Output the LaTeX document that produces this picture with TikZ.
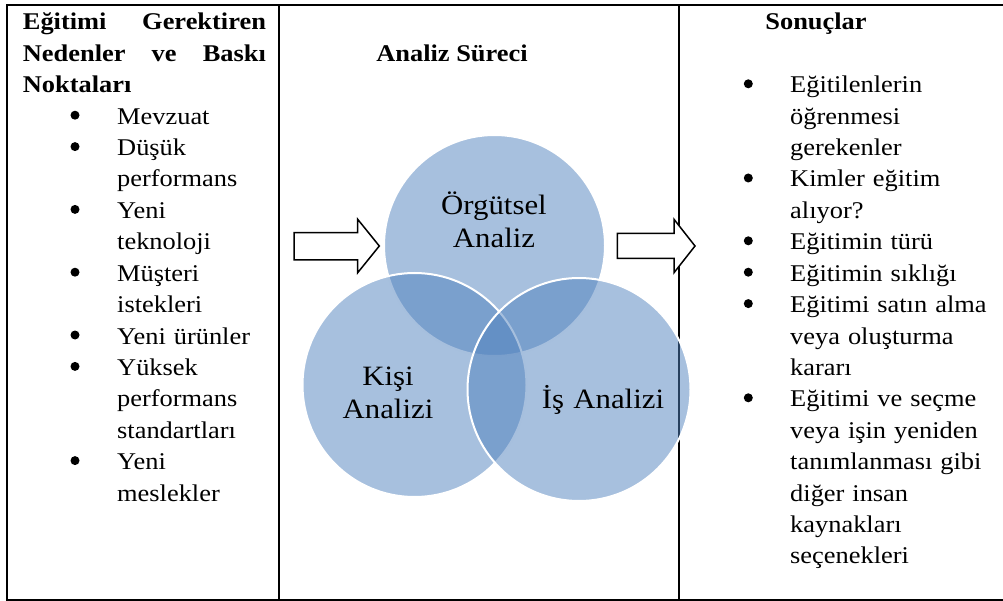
\documentclass[tikz,border=0pt]{standalone}
\usepackage{fontspec}
\setmainfont{Liberation Serif}[FakeStretch=1.1]
\definecolor{vennblue}{HTML}{4F81BD}

\begin{document}
\begin{tikzpicture}[x=1pt,y=-1pt,
    txt/.style={anchor=base west,inner sep=0pt,text width=200pt,align=left,font=\fontsize{24}{31.4}\selectfont},
    head/.style={txt,font=\fontsize{24}{31.4}\selectfont\bfseries},
    lbl/.style={anchor=base,inner sep=0pt,text width=160pt,align=center,font=\fontsize{28}{33}\selectfont},
    bul/.style={circle,fill,inner sep=0pt,minimum size=9pt},
    venn/.style={fill=vennblue,fill opacity=0.5,draw=white,line width=2pt}]
  \useasboundingbox (0,0) rectangle (1003,601);
  % frame
  \draw[line width=2pt] (1003,5) -- (7,5) -- (7,600) -- (1003,600);
  \draw[line width=1.8pt] (279,5) -- (279,600);
  \draw[line width=1.8pt] (679,5) -- (679,600);
  % venn
  \draw[venn] (494.5,245.5) circle [radius=110.5pt];
  \draw[venn] (414.5,385) circle [radius=112pt];
  \draw[venn] (579,389.5) circle [radius=111.5pt];
  \node[lbl] (org) at (494,215) {Örgütsel\\Analiz};
  \node[lbl] (kisi) at (388,385) {Kişi\\Analizi};
  \node[lbl] (is) at (603,408) {İş Analizi};
  % block arrows
  \draw[line width=1.5pt,fill=white] (294,232.7) -- (357.7,232.7) -- (357.7,219.3) -- (379.3,246)
    -- (357.7,272.7) -- (357.7,260) -- (294,260) -- cycle; % in
  \draw[line width=1.5pt,fill=white] (617.3,233.3) -- (674,233.3) -- (674,219.3) -- (695,246)
    -- (674,272.7) -- (674,258.3) -- (617.3,258.3) -- cycle; % out
  % left column
  \node[head,text width=243pt] (lhead) at (22.7,30) {Eğitimi \hfill Gerektiren\\Nedenler \hfill ve \hfill Baskı\\Noktaları};
  \foreach \i/\l/\t in {1/4/{Mevzuat}, 2/5/{Düşük\\performans}, 3/7/{Yeni\\teknoloji},
      4/9/{Müşteri\\istekleri}, 5/11/{Yeni ürünler}, 6/12/{Yüksek\\performans\\standartları},
      7/15/{Yeni\\meslekler}}{
    \node[bul] (lb\i) at (75,{30+(\l-1)*31.4-9}) {};
    \node[txt] (lt\i) at (117,{30+(\l-1)*31.4}) {\t};
  }
  % middle
  \node[head,text width=,anchor=base] (mhead) at (452,61.7) {Analiz Süreci};
  % right column
  \node[head,text width=,anchor=base] (rhead) at (816,30) {Sonuçlar};
  \foreach \i/\l/\t in {1/3/{Eğitilenlerin\\öğrenmesi\\gerekenler}, 2/6/{Kimler eğitim\\alıyor?},
      3/8/{Eğitimin türü}, 4/9/{Eğitimin sıklığı}, 5/10/{Eğitimi satın alma\\veya oluşturma\\kararı},
      6/13/{Eğitimi ve seçme\\veya işin yeniden\\tanımlanması gibi\\diğer insan\\kaynakları\\seçenekleri}}{
    \node[bul] (rb\i) at (748.3,{30+(\l-1)*31.4-9}) {};
    \node[txt] (rt\i) at (790,{30+(\l-1)*31.4}) {\t};
  }
\end{tikzpicture}
\end{document}
